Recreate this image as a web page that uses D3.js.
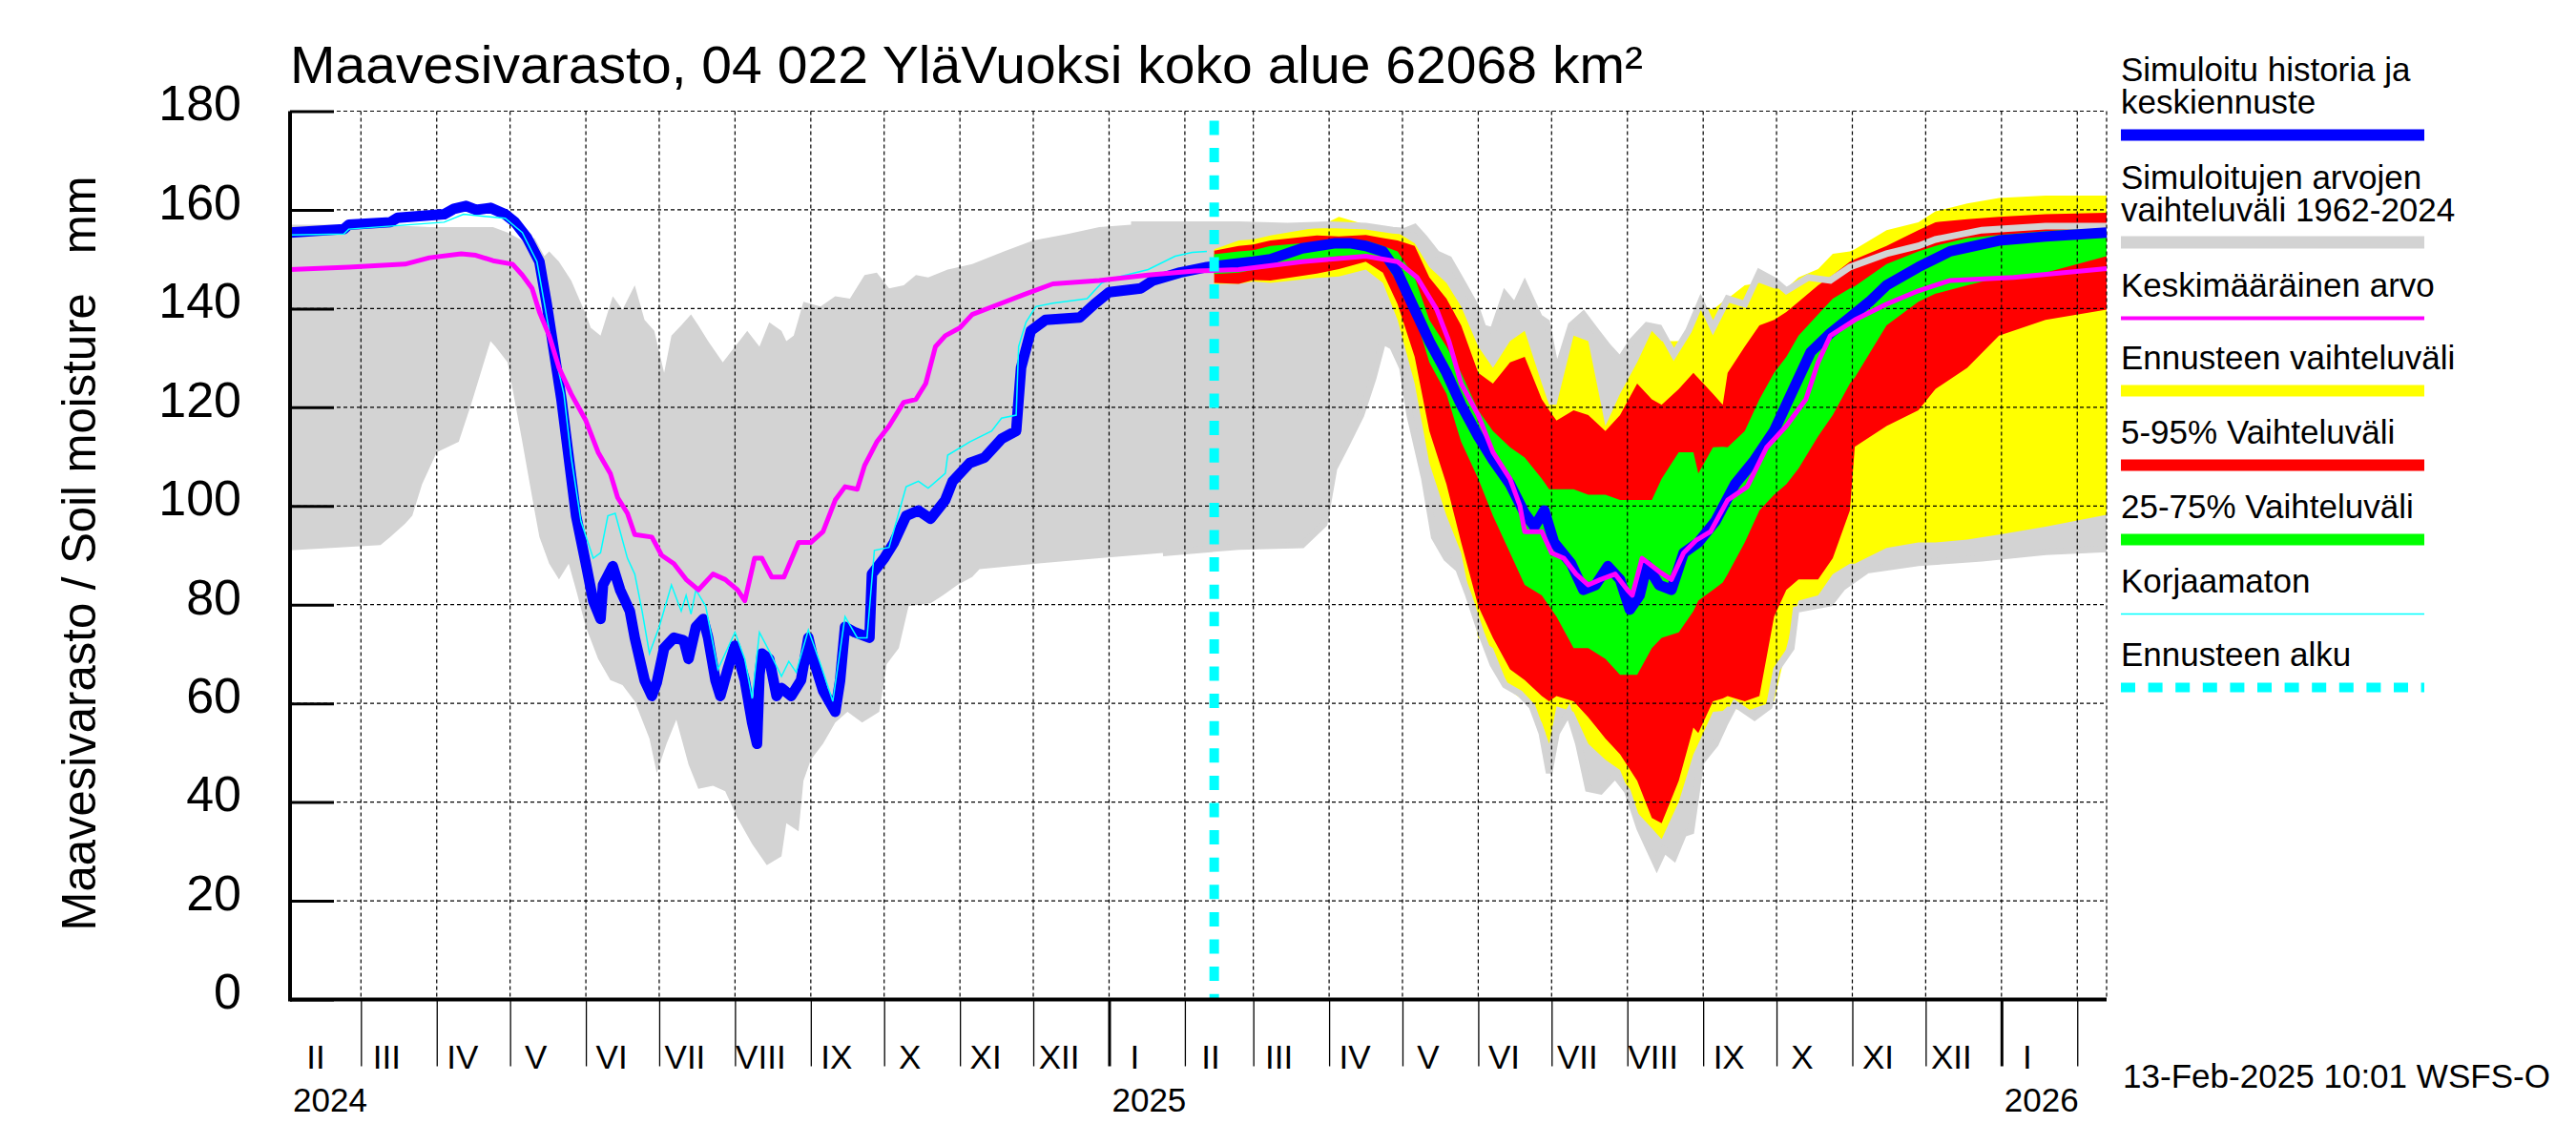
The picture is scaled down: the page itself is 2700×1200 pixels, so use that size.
<!DOCTYPE html>
<html>
<head>
<meta charset="utf-8">
<script src="https://cdn.jsdelivr.net/npm/d3@7"></script>
<style>
  body { margin: 0; background: #fff; }
  svg { display: block; }
</style>
</head>
<body>
<svg id="chart" width="2700" height="1200"></svg>
<script>
// tick labels
const yTicks = [0, 20, 40, 60, 80, 100, 120, 140, 160, 180]
const monthNames = ['I', 'II', 'III', 'IV', 'V', 'VI', 'VII', 'VIII', 'IX', 'X', 'XI', 'XII']
const yearLabels = ['2024', '2025', '2026']
const forecastStart = '2025-02-13'

// simulated history (blue)
const simulated = [
  ['2024-02-01',155.4],['2024-02-23',156.1],['2024-02-25',157.0],['2024-03-13',157.5],['2024-03-16',158.4],
  ['2024-04-04',159.1],['2024-04-08',160.2],['2024-04-13',160.8],['2024-04-17',160.0],['2024-04-23',160.4],
  ['2024-04-29',159.1],['2024-05-03',157.5],['2024-05-08',154.3],['2024-05-13',149.5],['2024-05-16',140.9],
  ['2024-05-19',131.2],['2024-05-22',121.6],['2024-05-25',109.8],['2024-05-28',98.0],['2024-06-01',88.3],
  ['2024-06-04',80.8],['2024-06-07',77.1],['2024-06-08',84.0],['2024-06-12',87.8],['2024-06-15',83.0],
  ['2024-06-19',78.7],['2024-06-21',73.3],['2024-06-25',64.7],['2024-06-28',61.5],['2024-06-30',64.2],
  ['2024-07-03',71.2],['2024-07-07',73.3],['2024-07-11',72.8],['2024-07-13',69.0],['2024-07-16',75.5],
  ['2024-07-19',77.1],['2024-07-21',73.3],['2024-07-24',64.7],['2024-07-26',61.5],['2024-07-29',66.9],
  ['2024-08-01',71.7],['2024-08-05',64.7],['2024-08-08',56.1],['2024-08-10',51.8],['2024-08-11',65.8],
  ['2024-08-12',70.1],['2024-08-15',69.0],['2024-08-18',61.5],['2024-08-20',63.1],['2024-08-24',61.5],
  ['2024-08-28',64.7],['2024-08-31',73.3],['2024-09-02',69.0],['2024-09-06',62.6],['2024-09-11',58.3],
  ['2024-09-13',64.7],['2024-09-15',75.5],['2024-09-19',74.4],['2024-09-25',73.3],['2024-09-26',86.2],
  ['2024-10-01',89.4],['2024-10-05',92.6],['2024-10-10',98.0],['2024-10-15',99.1],['2024-10-20',97.4],
  ['2024-10-26',101.2],['2024-10-29',105.0],['2024-11-05',108.7],['2024-11-11',109.8],['2024-11-18',113.6],
  ['2024-11-24',115.2],['2024-11-26',128.0],['2024-11-30',135.5],['2024-12-06',137.7],['2024-12-20',138.2],
  ['2024-12-26',140.9],['2025-01-01',143.3],['2025-01-14',144.1],['2025-01-19',145.7],['2025-01-30',147.3],
  ['2025-02-10',148.4],['2025-02-13',148.6]
]

// median forecast (blue, continues the history)
const median = [
  ['2025-02-13',148.6],['2025-03-01',149.5],['2025-03-08',150.0],['2025-03-21',152.2],['2025-04-03',153.2],
  ['2025-04-10',153.2],['2025-04-16',152.7],['2025-04-23',151.6],['2025-04-29',147.3],['2025-05-06',139.8],
  ['2025-05-12',133.4],['2025-05-19',127.0],['2025-05-25',120.5],['2025-06-01',114.1],['2025-06-07',109.3],
  ['2025-06-14',104.4],['2025-06-20',98.5],['2025-06-24',95.8],['2025-06-28',99.1],['2025-07-02',92.6],
  ['2025-07-09',88.3],['2025-07-14',83.0],['2025-07-19',84.0],['2025-07-24',87.8],['2025-07-29',85.1],
  ['2025-08-02',79.0],['2025-08-06',81.9],['2025-08-09',88.0],['2025-08-14',84.0],['2025-08-19',83.0],
  ['2025-08-24',90.5],['2025-08-30',92.6],['2025-09-06',96.9],['2025-09-14',104.4],['2025-09-22',109.3],
  ['2025-09-30',115.2],['2025-10-07',122.7],['2025-10-15',131.2],['2025-10-23',135.0],['2025-10-31',138.2],
  ['2025-11-08',141.4],['2025-11-15',144.7],['2025-11-28',148.4],['2025-12-11',151.6],['2025-12-31',153.8],
  ['2026-01-19',154.6],['2026-02-13',155.4]
]

// uncorrected simulation (thin cyan)
const uncorrected = [
  ['2024-02-01',154.9],['2024-02-23',155.1],['2024-02-25',156.1],['2024-04-04',157.5],['2024-04-12',159.1],
  ['2024-04-29',158.3],['2024-05-06',155.4],['2024-05-12',149.5],['2024-05-17',135.5],['2024-05-23',122.7],
  ['2024-05-26',109.8],['2024-05-30',96.9],['2024-06-04',89.4],['2024-06-07',90.5],['2024-06-10',98.0],
  ['2024-06-13',98.5],['2024-06-18',89.4],['2024-06-21',86.2],['2024-06-24',78.7],['2024-06-27',70.1],
  ['2024-07-01',75.5],['2024-07-06',84.0],['2024-07-10',78.7],['2024-07-12',81.9],['2024-07-14',78.1],
  ['2024-07-16',83.0],['2024-07-20',79.7],['2024-07-25',66.9],['2024-08-01',74.4],['2024-08-05',69.0],
  ['2024-08-08',61.0],['2024-08-11',74.4],['2024-08-15',70.6],['2024-08-20',65.5],['2024-08-23',68.5],
  ['2024-08-26',66.3],['2024-08-31',74.9],['2024-09-05',67.9],['2024-09-10',60.4],['2024-09-15',77.6],
  ['2024-09-20',73.3],['2024-09-24',73.3],['2024-09-27',91.0],['2024-10-03',91.6],['2024-10-10',103.9],
  ['2024-10-15',105.0],['2024-10-19',103.6],['2024-10-26',106.6],['2024-10-27',110.3],['2024-11-05',113.0],
  ['2024-11-14',115.2],['2024-11-18',117.8],['2024-11-24',118.4],['2024-11-25',132.3],['2024-11-28',137.2],
  ['2024-12-02',140.4],['2024-12-09',141.1],['2024-12-23',142.0],['2024-12-29',145.2],['2025-01-04',146.3],
  ['2025-01-17',147.9],['2025-01-28',150.6],['2025-02-04',151.4],['2025-02-10',151.6]
]

// long-term mean (magenta)
const meanValue = [
  ['2024-02-01',147.9],['2024-02-25',148.4],['2024-03-19',149.0],['2024-03-29',150.3],['2024-04-11',151.1],
  ['2024-04-17',150.8],['2024-04-24',149.7],['2024-05-02',149.0],['2024-05-06',146.8],['2024-05-10',144.1],
  ['2024-05-13',139.3],['2024-05-17',134.5],['2024-05-21',128.0],['2024-05-26',122.7],['2024-06-01',117.3],
  ['2024-06-06',110.9],['2024-06-11',106.6],['2024-06-14',101.7],['2024-06-18',98.5],['2024-06-21',94.2],
  ['2024-06-28',93.7],['2024-07-02',90.0],['2024-07-07',88.3],['2024-07-12',85.1],['2024-07-17',83.0],
  ['2024-07-23',86.2],['2024-07-28',85.1],['2024-08-02',83.0],['2024-08-05',80.8],['2024-08-09',89.4],
  ['2024-08-12',89.4],['2024-08-16',85.6],['2024-08-21',85.6],['2024-08-27',92.6],['2024-09-01',92.6],
  ['2024-09-06',94.8],['2024-09-11',101.2],['2024-09-15',103.9],['2024-09-20',103.4],['2024-09-23',108.2],
  ['2024-09-28',113.0],['2024-10-03',116.2],['2024-10-09',121.0],['2024-10-14',121.6],['2024-10-18',124.8],
  ['2024-10-22',132.3],['2024-10-26',134.5],['2024-11-01',136.1],['2024-11-06',138.8],['2024-11-17',140.9],
  ['2024-11-27',142.8],['2024-12-09',145.0],['2024-12-28',145.7],['2025-01-17',146.8],['2025-02-05',147.6],
  ['2025-02-23',147.9],['2025-03-21',149.5],['2025-04-16',150.6],['2025-04-29',149.5],['2025-05-07',146.3],
  ['2025-05-15',139.8],['2025-05-20',133.4],['2025-05-25',124.8],['2025-06-01',118.4],['2025-06-07',110.9],
  ['2025-06-14',105.5],['2025-06-18',100.1],['2025-06-20',94.8],['2025-06-27',94.8],['2025-07-01',90.5],
  ['2025-07-06',89.4],['2025-07-11',86.2],['2025-07-16',84.0],['2025-07-21',85.1],['2025-07-27',86.2],
  ['2025-08-01',83.0],['2025-08-03',81.9],['2025-08-07',89.4],['2025-08-14',86.7],['2025-08-19',85.1],
  ['2025-08-24',90.5],['2025-08-29',93.0],['2025-09-04',94.8],['2025-09-11',101.2],['2025-09-19',103.9],
  ['2025-09-27',111.9],['2025-10-05',116.2],['2025-10-13',121.6],['2025-10-18',129.1],['2025-10-23',134.5],
  ['2025-11-02',137.7],['2025-11-15',140.9],['2025-11-28',143.6],['2025-12-11',145.7],['2026-01-06',146.3],
  ['2026-02-13',148.1]
]

// range of simulated values 1962-2024 (grey), upper edge
const rangeMax = [
  ['2024-02-01',157.0],['2024-03-09',157.0],['2024-03-29',156.5],['2024-04-24',156.5],['2024-04-30',155.4],
  ['2024-05-06',153.8],['2024-05-11',154.3],['2024-05-15',150.6],['2024-05-17',151.6],['2024-05-21',149.5],
  ['2024-05-26',145.7],['2024-06-01',138.8],['2024-06-03',136.1],['2024-06-07',134.5],['2024-06-12',142.5],
  ['2024-06-16',139.8],['2024-06-21',144.7],['2024-06-25',137.7],['2024-06-29',135.5],['2024-07-03',127.0],
  ['2024-07-06',134.5],['2024-07-10',136.6],['2024-07-14',138.8],['2024-07-17',136.6],['2024-07-21',133.4],
  ['2024-07-27',129.1],['2024-08-01',132.3],['2024-08-06',135.5],['2024-08-11',132.3],['2024-08-15',137.2],
  ['2024-08-20',135.5],['2024-08-22',133.4],['2024-08-25',134.5],['2024-08-29',141.4],['2024-09-05',140.4],
  ['2024-09-11',142.5],['2024-09-17',142.0],['2024-09-23',146.8],['2024-09-28',147.3],['2024-10-03',144.1],
  ['2024-10-09',144.7],['2024-10-14',146.8],['2024-10-19',146.3],['2024-10-27',147.9],['2024-11-06',149.0],
  ['2024-11-19',151.6],['2024-12-01',153.8],['2024-12-15',155.1],['2024-12-28',156.5],['2025-01-10',157.0],
  ['2025-02-23',157.0],['2025-03-15',156.7],['2025-04-01',157.0],['2025-04-16',156.7],['2025-04-27',155.9],
  ['2025-05-02',155.7],['2025-05-06',156.5],['2025-05-10',154.3],['2025-05-15',151.1],['2025-05-20',150.0],
  ['2025-05-25',145.7],['2025-05-31',140.4],['2025-06-03',136.1],['2025-06-07',135.5],['2025-06-12',142.8],
  ['2025-06-16',140.4],['2025-06-20',144.7],['2025-06-26',138.2],['2025-06-29',137.2],['2025-07-03',127.0],
  ['2025-07-09',136.6],['2025-07-14',138.8],['2025-07-19',135.5],['2025-07-24',132.3],['2025-07-29',129.6],
  ['2025-08-03',133.4],['2025-08-09',136.6],['2025-08-14',136.1],['2025-08-20',130.7],['2025-08-26',135.5],
  ['2025-08-31',141.4],['2025-09-05',136.1],['2025-09-11',142.0],['2025-09-18',140.9],['2025-09-24',147.3],
  ['2025-09-30',145.7],['2025-10-05',143.6],['2025-10-14',146.3],['2025-10-23',145.7],['2025-10-31',148.4],
  ['2025-11-15',151.1],['2025-11-28',152.7],['2025-12-05',154.0],['2025-12-24',155.9],['2026-01-19',156.7],
  ['2026-02-13',156.7]
]

// range of simulated values 1962-2024 (grey), lower edge
const rangeMin = [
  ['2024-02-01',91.0],['2024-03-09',92.1],['2024-03-13',93.7],['2024-03-19',96.4],['2024-03-22',98.0],
  ['2024-03-26',104.4],['2024-04-01',110.9],['2024-04-10',113.0],['2024-04-15',120.5],['2024-04-19',127.0],
  ['2024-04-23',133.4],['2024-04-25',132.3],['2024-04-30',129.1],['2024-05-06',113.0],['2024-05-11',99.1],
  ['2024-05-13',93.7],['2024-05-17',88.3],['2024-05-21',85.1],['2024-05-25',88.3],['2024-05-28',83.0],
  ['2024-06-01',75.5],['2024-06-06',69.0],['2024-06-11',64.7],['2024-06-16',63.7],['2024-06-21',60.4],
  ['2024-06-27',52.9],['2024-06-30',45.9],['2024-07-04',51.8],['2024-07-08',56.7],['2024-07-13',47.6],
  ['2024-07-17',42.7],['2024-07-23',43.3],['2024-07-28',42.2],['2024-08-02',36.8],['2024-08-08',31.5],
  ['2024-08-14',27.2],['2024-08-20',29.0],['2024-08-22',35.7],['2024-08-27',34.1],['2024-08-29',44.3],
  ['2024-09-01',48.6],['2024-09-06',51.8],['2024-09-11',56.1],['2024-09-16',58.3],['2024-09-22',56.1],
  ['2024-09-29',58.3],['2024-10-02',67.9],['2024-10-07',71.2],['2024-10-11',79.7],['2024-10-20',80.3],
  ['2024-10-25',81.9],['2024-10-31',84.0],['2024-11-06',85.6],['2024-11-09',87.2],['2024-12-02',88.3],
  ['2024-12-28',89.4],['2025-01-23',90.5],['2025-02-23',91.8],['2025-03-21',92.1],['2025-03-30',96.4],
  ['2025-04-03',107.6],['2025-04-08',112.4],['2025-04-14',118.4],['2025-04-19',125.9],['2025-04-23',133.4],
  ['2025-04-27',132.3],['2025-05-01',128.0],['2025-05-04',118.4],['2025-05-10',105.5],['2025-05-14',93.7],
  ['2025-05-19',89.4],['2025-05-24',87.2],['2025-05-28',81.9],['2025-06-02',74.4],['2025-06-07',67.9],
  ['2025-06-12',63.7],['2025-06-18',62.0],['2025-06-23',59.4],['2025-06-27',54.0],['2025-06-30',45.9],
  ['2025-07-03',54.0],['2025-07-08',58.3],['2025-07-12',51.8],['2025-07-16',42.7],['2025-07-21',42.2],
  ['2025-07-27',45.4],['2025-08-01',42.2],['2025-08-06',34.7],['2025-08-10',30.4],['2025-08-13',27.2],
  ['2025-08-16',30.4],['2025-08-20',28.8],['2025-08-24',33.6],['2025-08-27',34.1],['2025-08-31',48.1],
  ['2025-09-06',51.8],['2025-09-10',56.1],['2025-09-14',59.9],['2025-09-22',57.2],['2025-09-28',59.4],
  ['2025-10-01',66.9],['2025-10-07',71.2],['2025-10-09',79.0],['2025-10-23',80.3],['2025-10-28',83.5],
  ['2025-11-07',87.0],['2025-11-28',88.5],['2025-12-24',89.4],['2026-01-19',90.7],['2026-02-13',91.3]
]

// forecast spread: date, min, p5, p25, p75, p95, max
const forecastBands = [
  ['2025-02-13',145.0,145.2,147.0,151.0,151.7,152.0],
  ['2025-02-23',145.0,145.0,147.3,151.6,152.7,153.8],
  ['2025-03-01',145.5,145.8,147.8,151.8,153.0,154.0],
  ['2025-03-08',145.2,145.7,148.4,152.7,153.8,154.8],
  ['2025-03-27',146.2,147.1,150.0,153.5,154.8,156.4],
  ['2025-04-05',146.5,148.0,150.6,153.8,154.6,158.6],
  ['2025-04-16',147.9,149.5,150.6,153.8,154.9,157.0],
  ['2025-04-23',145.2,147.3,150.0,152.7,154.3,155.9],
  ['2025-04-29',137.7,140.9,145.2,151.6,153.8,155.4],
  ['2025-05-06',124.8,130.2,138.8,146.3,152.7,153.2],
  ['2025-05-12',108.7,115.2,129.1,137.7,146.3,148.4],
  ['2025-05-19',98.0,104.4,122.7,132.3,142.0,145.2],
  ['2025-05-25',90.5,92.6,113.0,127.0,136.6,140.4],
  ['2025-06-01',73.3,79.7,105.5,119.4,127.0,132.3],
  ['2025-06-07',71.2,73.3,98.0,115.2,124.8,128.0],
  ['2025-06-14',62.6,66.9,90.5,111.9,129.1,133.4],
  ['2025-06-20',60.4,64.7,84.0,109.8,130.2,135.5],
  ['2025-06-27',56.1,61.5,81.9,105.5,121.6,124.8],
  ['2025-06-30',51.8,60.4,79.7,103.4,119.4,120.5],
  ['2025-07-03',59.4,61.5,77.6,103.4,117.3,120.5],
  ['2025-07-10',58.3,60.4,71.2,103.4,119.4,134.5],
  ['2025-07-16',51.8,57.2,71.2,102.3,118.4,133.4],
  ['2025-07-23',48.6,52.9,69.0,102.3,115.2,116.2],
  ['2025-07-29',46.5,49.7,65.8,101.2,118.4,122.7],
  ['2025-08-05',37.9,44.3,65.8,101.2,124.8,129.1],
  ['2025-08-11',34.7,36.8,71.2,101.2,121.6,135.5],
  ['2025-08-15',32.5,35.7,73.3,105.5,120.5,133.4],
  ['2025-08-22',40.0,44.3,74.4,110.9,123.7,133.4],
  ['2025-08-28',49.7,55.1,78.7,110.9,127.0,137.7],
  ['2025-08-30',51.8,54.0,80.8,106.6,125.9,140.9],
  ['2025-09-05',58.3,60.4,83.0,111.9,122.7,139.8],
  ['2025-09-09',58.5,61.0,84.5,112.0,120.5,141.4],
  ['2025-09-11',59.4,61.5,86.2,111.9,127.0,142.0],
  ['2025-09-18',58.3,60.4,92.6,115.2,132.3,144.7],
  ['2025-09-24',59.4,61.5,99.1,121.6,136.6,145.2],
  ['2025-09-30',60.4,77.6,102.3,127.0,137.7,144.1],
  ['2025-10-05',71.2,83.0,104.4,130.2,139.3,144.1],
  ['2025-10-10',80.8,85.1,107.6,134.5,141.4,146.3],
  ['2025-10-18',81.9,85.1,114.1,138.8,144.7,148.0],
  ['2025-10-24',86.2,89.4,118.4,142.0,146.8,151.1],
  ['2025-10-31',88.3,99.1,124.8,144.1,149.5,151.6],
  ['2025-11-02',88.3,112.0,126.0,144.5,150.0,152.0],
  ['2025-11-15',91.5,116.2,136.6,149.0,152.7,155.9],
  ['2025-11-28',92.6,119.4,141.4,151.6,155.9,157.5],
  ['2025-12-05',92.6,123.7,143.0,152.7,157.5,159.7],
  ['2025-12-18',93.2,128.0,144.7,154.3,158.1,161.3],
  ['2025-12-31',94.2,134.5,146.3,154.9,158.6,162.4],
  ['2026-01-19',95.8,137.7,147.3,155.7,159.1,162.9],
  ['2026-02-13',98.2,139.8,150.6,156.5,159.4,162.9]
]

const legendItems = [
  { lines: ['Simuloitu historia ja', 'keskiennuste'], color: '#0000ff', width: 12 },
  { lines: ['Simuloitujen arvojen', 'vaihteluväli 1962-2024'], color: '#d3d3d3', width: 13 },
  { lines: ['Keskimääräinen arvo'], color: '#ff00ff', width: 4 },
  { lines: ['Ennusteen vaihteluväli'], color: '#ffff00', width: 12 },
  { lines: ['5-95% Vaihteluväli'], color: '#ff0000', width: 12 },
  { lines: ['25-75% Vaihteluväli'], color: '#00ff00', width: 12 },
  { lines: ['Korjaamaton'], color: '#00ffff', width: 1.5 },
  { lines: ['Ennusteen alku'], color: '#00ffff', width: 10, dash: '15,13.6' }
]

const font = "'Liberation Sans', Arial, sans-serif"

const parse = d3.timeParse('%Y-%m-%d')
const svg = d3.select('#chart').attr('font-family', font)

const plotLeft = 304, plotRight = 2208, plotTop = 116.5, plotBottom = 1047.5
const startDate = parse('2024-02-01')
const endDate = parse('2026-02-13')

const x = d3.scaleTime().domain([startDate, endDate]).range([plotLeft, plotRight])
const y = d3.scaleLinear().domain([0, 180]).range([plotBottom, plotTop])

const line = d3.line().x(d => x(parse(d[0]))).y(d => y(d[1]))

// grey range, upper edge forward and lower edge back
const rangePoly = rangeMax.concat(rangeMin.slice().reverse())
svg.append('path')
  .attr('d', line(rangePoly) + 'Z')
  .attr('fill', '#d3d3d3')

// forecast spread bands
const bandArea = (lo, hi) => d3.area()
  .x(d => x(parse(d[0])))
  .y0(d => y(d[lo]))
  .y1(d => y(d[hi]))

const bands = [
  { lo: 1, hi: 6, color: '#ffff00' },
  { lo: 2, hi: 5, color: '#ff0000' },
  { lo: 3, hi: 4, color: '#00ff00' }
]
bands.forEach(b => {
  svg.append('path')
    .attr('d', bandArea(b.lo, b.hi)(forecastBands))
    .attr('fill', b.color)
})

// grey range edges stay visible over the forecast
const fStart = parse(forecastStart)
const afterStart = arr => {
  const i = arr.findIndex(d => parse(d[0]) >= fStart)
  return arr.slice(Math.max(0, i - 1))
}
;[rangeMax, rangeMin].forEach(arr => {
  svg.append('path')
    .attr('d', line(afterStart(arr)))
    .attr('fill', 'none')
    .attr('stroke', '#d3d3d3')
    .attr('stroke-width', 7)
})

// grid
const grid = svg.append('g')
  .attr('stroke', '#000')
  .attr('stroke-width', 1.2)
  .attr('stroke-dasharray', '4,3')
yTicks.filter(v => v > 0).forEach(v => {
  grid.append('line')
    .attr('x1', plotLeft).attr('x2', plotRight)
    .attr('y1', y(v)).attr('y2', y(v))
})
const monthStarts = d3.timeMonth.range(d3.timeMonth.offset(startDate, 1), endDate)
monthStarts.concat([endDate]).forEach(d => {
  grid.append('line')
    .attr('x1', x(d)).attr('x2', x(d))
    .attr('y1', plotTop).attr('y2', plotBottom)
})

// simulated history + median forecast
svg.append('path')
  .attr('d', line(simulated.concat(median.slice(1))))
  .attr('fill', 'none')
  .attr('stroke', '#0000ff')
  .attr('stroke-width', 11)
  .attr('stroke-linejoin', 'round')

svg.append('path')
  .attr('d', line(uncorrected))
  .attr('fill', 'none')
  .attr('stroke', '#00ffff')
  .attr('stroke-width', 1.5)

svg.append('path')
  .attr('d', line(meanValue))
  .attr('fill', 'none')
  .attr('stroke', '#ff00ff')
  .attr('stroke-width', 5)
  .attr('stroke-linejoin', 'round')

// forecast start
svg.append('line')
  .attr('x1', x(fStart)).attr('x2', x(fStart))
  .attr('y1', 126.5).attr('y2', plotBottom)
  .attr('stroke', '#00ffff')
  .attr('stroke-width', 10)
  .attr('stroke-dasharray', '15,13.6')

// y axis
const yLabels = svg.append('g')
  .attr('transform', `translate(${plotLeft},0)`)
  .call(d3.axisLeft(y).tickValues(yTicks).tickSize(0).tickPadding(51))
yLabels.select('.domain').remove()
yLabels.selectAll('text')
  .attr('dy', '0.18em')
  .attr('font-family', font)
  .attr('font-size', 52)
  .attr('fill', '#000')

const yInner = svg.append('g')
  .attr('transform', `translate(${plotLeft},0)`)
  .call(d3.axisRight(y).tickValues(yTicks).tickSize(46).tickFormat(''))
yInner.select('.domain').remove()
yInner.selectAll('line').attr('stroke', '#000').attr('stroke-width', 3)

// x axis ticks below the plot
const xTicks = svg.append('g')
  .attr('transform', `translate(0,${plotBottom})`)
  .call(d3.axisBottom(x).tickValues(monthStarts).tickSize(70).tickFormat(''))
xTicks.select('.domain').remove()
xTicks.selectAll('line')
  .attr('stroke', '#000')
  .attr('stroke-width', d => d.getMonth() === 0 ? 3 : 1.3)

// axis lines
svg.append('line')
  .attr('x1', plotLeft).attr('x2', plotLeft)
  .attr('y1', plotTop).attr('y2', plotBottom + 2)
  .attr('stroke', '#000').attr('stroke-width', 4)
svg.append('line')
  .attr('x1', plotLeft).attr('x2', plotRight)
  .attr('y1', plotBottom).attr('y2', plotBottom)
  .attr('stroke', '#000').attr('stroke-width', 4)

// month labels
d3.timeMonth.range(startDate, d3.timeMonth.floor(endDate)).forEach(d => {
  svg.append('text')
    .attr('x', x(d) + 27)
    .attr('y', 1120)
    .attr('text-anchor', 'middle')
    .attr('font-size', 35)
    .text(monthNames[d.getMonth()])
})

// year labels
yearLabels.forEach(yr => {
  const d = d3.max([startDate, parse(yr + '-01-01')])
  svg.append('text')
    .attr('x', x(d) + 3)
    .attr('y', 1165)
    .attr('font-size', 35)
    .text(yr)
})

// title
svg.append('text')
  .attr('x', plotLeft)
  .attr('y', 87)
  .attr('font-size', 55)
  .attr('textLength', 1418)
  .attr('lengthAdjust', 'spacingAndGlyphs')
  .text('Maavesivarasto, 04 022 YläVuoksi koko alue 62068 km²')

// y title
svg.append('text')
  .attr('transform', 'translate(100,580) rotate(-90)')
  .attr('text-anchor', 'middle')
  .attr('font-size', 50)
  .attr('textLength', 791)
  .attr('lengthAdjust', 'spacingAndGlyphs')
  .style('white-space', 'pre')
  .text('Maavesivarasto / Soil moisture   mm')

// timestamp
svg.append('text')
  .attr('x', 2225)
  .attr('y', 1140)
  .attr('font-size', 35)
  .attr('textLength', 448)
  .attr('lengthAdjust', 'spacingAndGlyphs')
  .text('13-Feb-2025 10:01 WSFS-O')

// legend
const legend = svg.append('g').attr('font-size', 35)
const legendBase = [85, 197.5, 311, 387, 465, 543, 621, 698]
legendItems.forEach((item, i) => {
  const ty = legendBase[i]
  item.lines.forEach((t, j) => {
    legend.append('text')
      .attr('x', 2223)
      .attr('y', ty + j * 34)
      .text(t)
  })
  const ly = ty + (item.lines.length - 1) * 34 + 22.5
  legend.append('line')
    .attr('x1', 2223).attr('x2', 2541)
    .attr('y1', ly).attr('y2', ly)
    .attr('stroke', item.color)
    .attr('stroke-width', item.width)
    .attr('stroke-dasharray', item.dash || null)
})
</script>
</body>
</html>
